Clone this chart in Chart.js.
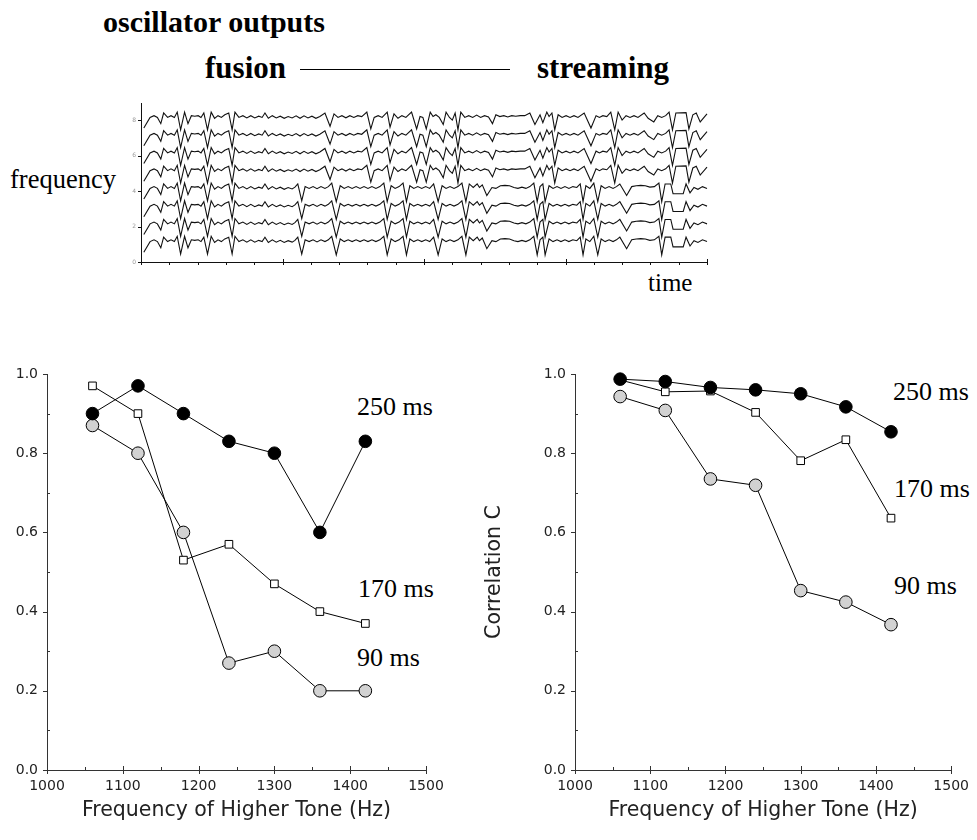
<!DOCTYPE html>
<html><head><meta charset="utf-8">
<script src="https://cdn.jsdelivr.net/npm/chart.js@4/dist/chart.umd.min.js"></script>
<style>
html,body{margin:0;padding:0;background:#fff;}
#page{position:relative;width:977px;height:840px;overflow:hidden;background:#fff;}
canvas{position:absolute;}
.lbl{position:absolute;white-space:nowrap;line-height:1;color:#000;font-family:"Liberation Serif","Times New Roman",serif;}
</style></head><body><div id="page">
<div class="lbl" style="left:103px;top:7px;font-size:30px;font-weight:bold">oscillator outputs</div>
<div class="lbl" style="left:205px;top:52px;font-size:31px;font-weight:bold">fusion</div>
<div style="position:absolute;left:300px;top:69px;width:210px;height:0;border-top:1.5px solid #000"></div>
<div class="lbl" style="left:537px;top:52px;font-size:31px;font-weight:bold">streaming</div>
<div class="lbl" style="left:10px;top:166px;font-size:26.5px">frequency</div>
<div class="lbl" style="left:648px;top:270px;font-size:25px">time</div>
<div class="lbl" style="left:357px;top:394px;font-size:26px">250 ms</div>
<div class="lbl" style="left:358px;top:576px;font-size:26px">170 ms</div>
<div class="lbl" style="left:357px;top:645px;font-size:26px">90 ms</div>
<div class="lbl" style="left:893px;top:379px;font-size:26px">250 ms</div>
<div class="lbl" style="left:894px;top:476px;font-size:26px">170 ms</div>
<div class="lbl" style="left:894px;top:573px;font-size:26px">90 ms</div>
<canvas id="osc" width="620" height="180" style="left:100px;top:95px"></canvas>
<canvas id="left" width="470" height="500" style="left:0px;top:340px"></canvas>
<canvas id="right" width="497" height="500" style="left:480px;top:340px"></canvas>
</div>
<script>
// ---------- data: correlation panels ----------
const freqs = [1060, 1120, 1180, 1240, 1300, 1360, 1420];
const seriesNames = ['250 ms', '170 ms', '90 ms'];
const left250 = [0.90, 0.97, 0.90, 0.83, 0.80, 0.60, 0.83];
const left170 = [0.97, 0.90, 0.53, 0.57, 0.47, 0.40, 0.37];
const left90  = [0.87, 0.80, 0.60, 0.27, 0.30, 0.20, 0.20];
const right250 = [0.987, 0.981, 0.966, 0.960, 0.950, 0.917, 0.854];
const right170 = [0.985, 0.955, 0.957, 0.903, 0.781, 0.834, 0.636];
const right90  = [0.943, 0.908, 0.735, 0.719, 0.453, 0.424, 0.367];
const xMajorTicks = [1000, 1100, 1200, 1300, 1400, 1500];
const xMinorTicks = [1050, 1150, 1250, 1350, 1450];
const yMajorTicks = [0, 0.2, 0.4, 0.6, 0.8, 1.0];
const yMinorTicks = [0.1, 0.3, 0.5, 0.7, 0.9];
const xAxisTitle = 'Frequency of Higher Tone (Hz)';
const yAxisTitle = 'Correlation C';

// ---------- data: oscillator outputs (time 0..100, deflection from channel level) ----------
const oscChannelsLower = [1, 2, 3, 4];
const oscChannelsUpper = [5, 6, 7, 8];
const oscYTicks = [0, 2, 4, 6, 8];
const oscTMajor = [0, 25, 50, 75, 100];
const oscTMinor = [5,10,15,20,30,35,40,45,55,60,65,70,80,85,90,95];
const waveShared = [[0.5,-0.55],[1.6,0.05],[2.3,0.15],[2.9,0.05],[3.5,-0.3],[4.0,0.3],[4.7,0.05],[5.3,0.15],[5.9,0.05],[6.4,0.35],[7.0,-0.65],[7.7,0.35],[8.3,-0.3],[8.9,0.15],[9.5,0.12],[10.1,0.15],[10.6,0.05],[11.1,0.3],[11.75,-0.65],[12.4,0.35],[13.0,0.0],[13.6,0.15],[14.2,0.05],[14.8,0.2],[15.5,0.3],[16.1,-0.65],[16.6,0.35],[17.3,0.05],[18.0,0.15],[18.7,0.02],[19.4,0.15],[20.1,0.02],[20.8,0.12],[21.4,0.05],[21.9,0.3],[22.5,0.0],[23.2,0.15],[23.9,0.02],[24.6,0.12],[25.3,0.0],[26.0,0.1]];
const waveUpperTail = [[26.7,0.02],[27.4,0.14],[28.1,0.0],[28.8,0.14],[29.5,0.02],[30.2,0.12],[30.9,0.0],[31.6,0.1],[32.5,0.3],[33.4,-0.45],[34.1,0.25],[34.8,0.05],[35.5,0.15],[36.2,0.03],[36.9,0.15],[37.6,0.05],[38.3,0.15],[39.0,0.1],[39.9,0.35],[40.6,-0.6],[41.2,0.05],[41.9,0.15],[42.6,0.05],[43.5,0.35],[44.0,-0.5],[44.7,0.25],[45.4,0.0],[46.1,0.15],[46.8,0.05],[47.8,0.35],[48.7,-0.6],[49.3,0.1],[49.8,0.05],[50.4,-0.6],[51.1,0.35],[51.6,0.1],[52.1,0.2],[52.7,0.05],[53.4,-0.35],[53.9,0.35],[54.5,0.05],[55.0,-0.1],[55.5,0.3],[56.0,-0.65],[56.5,0.35],[57.2,0.05],[57.9,0.15],[58.6,0.05],[59.3,0.18],[60.0,0.05],[60.7,0.15],[61.4,0.08],[62.1,-0.3],[62.7,0.2],[63.4,0.1],[64.1,0.15],[64.8,0.08],[65.5,0.15],[66.2,0.12],[67.0,0.15],[67.8,0.15],[68.7,0.3],[69.6,-0.35],[70.5,0.2],[71.0,-0.25],[71.7,0.35],[72.1,0.1],[72.6,0.3],[73.1,-0.65],[73.7,0.2],[74.4,0.05],[75.1,0.15],[75.8,0.05],[76.5,0.15],[77.2,0.05],[78.3,0.3],[79.5,-0.55],[80.4,0.15],[81.0,0.05],[81.6,0.15],[82.3,0.1],[83.0,0.35],[83.7,-0.65],[84.3,0.35],[85.0,-0.1],[85.7,0.15],[86.4,0.05],[87.1,0.15],[87.8,0.05],[88.9,0.3],[89.6,0.0],[90.6,-0.2],[91.3,0.15],[92.0,0.05],[92.7,0.15],[93.3,0.35],[93.9,-0.65],[94.5,0.3],[96.3,0.32],[96.8,-0.6],[97.5,0.2],[98.1,0.3],[98.8,-0.2],[100,0.25]];
const waveLowerTail = [[26.7,0.02],[27.2,0.12],[27.7,0.3],[28.4,-0.65],[29.0,0.15],[29.7,0.05],[30.4,0.15],[31.1,0.03],[31.8,0.15],[32.5,0.05],[33.1,0.15],[33.7,0.35],[34.5,-0.7],[35.2,0.2],[35.9,0.05],[36.6,0.15],[37.3,0.05],[38.0,0.15],[38.7,0.05],[39.4,0.15],[40.1,0.05],[40.8,0.15],[41.5,0.05],[42.2,0.15],[42.9,0.35],[43.5,-0.7],[44.2,0.2],[44.9,0.05],[45.6,0.15],[46.3,0.35],[46.9,-0.7],[47.5,0.2],[48.2,0.05],[48.9,0.15],[49.6,0.05],[50.3,0.15],[51.0,0.05],[51.7,0.3],[52.5,-0.7],[53.2,0.2],[53.9,0.05],[54.6,0.15],[55.3,0.05],[56.0,0.15],[56.7,0.35],[57.4,-0.7],[58.0,0.3],[58.7,0.1],[59.4,0.3],[59.8,0.1],[60.3,0.25],[61.1,-0.35],[62.0,0.1],[62.7,0.05],[63.5,0.2],[64.3,0.22],[65.1,0.2],[65.9,0.1],[66.6,0.05],[67.3,0.12],[68.0,0.05],[68.7,0.15],[69.4,0.35],[70.0,-0.7],[70.5,0.15],[71.0,0.3],[71.4,-0.7],[72.1,0.2],[72.8,0.05],[73.5,0.15],[74.2,0.05],[74.9,0.15],[75.6,0.05],[76.3,0.15],[77.0,0.1],[77.6,0.3],[78.1,-0.7],[78.6,0.2],[79.3,0.05],[80.0,0.35],[80.7,-0.7],[81.3,0.2],[82.0,0.05],[82.7,0.15],[83.4,0.05],[84.0,0.15],[84.6,0.3],[85.8,-0.35],[86.7,0.15],[87.5,0.2],[88.3,0.22],[89.1,0.2],[89.9,0.12],[90.7,0.15],[91.5,0.35],[92.0,-0.7],[92.6,0.3],[93.6,0.3],[94.0,-0.25],[95.8,-0.25],[96.3,0.3],[97.0,-0.2],[97.7,0.1],[98.4,0.0],[99.2,0.15],[100,0.05]];

// ---------- tick-mark plugin (uses the chart's own scales) ----------
const tickMarks = {
  id: 'tickMarks',
  afterDraw(chart, args, o) {
    const ctx = chart.ctx, xs = chart.scales.x, ys = chart.scales.y, a = chart.chartArea;
    ctx.save();
    ctx.strokeStyle = o.color; ctx.lineWidth = 1;
    ctx.beginPath();
    const vx = (v, up, down) => { const p = Math.round(xs.getPixelForValue(v)) + 0.5; ctx.moveTo(p, a.bottom - up); ctx.lineTo(p, a.bottom + down); };
    const hy = (v, out, inn) => { const p = Math.round(ys.getPixelForValue(v)) + 0.5; ctx.moveTo(a.left - out, p); ctx.lineTo(a.left + inn, p); };
    o.xMajor.forEach(v => vx(v, o.xMajorIn, o.xMajorOut));
    o.xMinor.forEach(v => vx(v, o.xMinorIn, o.xMinorOut));
    o.yMajor.forEach(v => hy(v, o.yMajorOut, o.yMajorIn));
    o.yMinor.forEach(v => hy(v, o.yMinorOut, o.yMinorIn));
    ctx.stroke();
    ctx.restore();
  }
};

const axisColor = '#333';
const sans = '"DejaVu Sans", Verdana, sans-serif';

function corrChart(id, d250, d170, d90, yWidth, padRight, showYTitle) {
  const mk = (vals) => freqs.map((f, i) => ({x: f, y: vals[i]}));
  return new Chart(document.getElementById(id), {
    type: 'line',
    data: { datasets: [
      { label: seriesNames[0], data: mk(d250), borderColor: '#000', borderWidth: 1, backgroundColor: '#000',
        pointStyle: 'circle', pointRadius: 6.3, pointBorderColor: '#000', pointBorderWidth: 1, clip: false },
      { label: seriesNames[1], data: mk(d170), borderColor: '#000', borderWidth: 1, backgroundColor: '#fff',
        pointStyle: 'rect', pointRadius: 5.4, pointBorderColor: '#000', pointBorderWidth: 1, clip: false },
      { label: seriesNames[2], data: mk(d90), borderColor: '#000', borderWidth: 1, backgroundColor: '#d2d2d2',
        pointStyle: 'circle', pointRadius: 6.3, pointBorderColor: '#000', pointBorderWidth: 1, clip: false }
    ]},
    options: {
      responsive: false, animation: false, events: [],
      layout: { padding: { left: 0, top: 34, right: padRight, bottom: 0 } },
      plugins: { legend: { display: false }, tooltip: { enabled: false },
        tickMarks: { color: axisColor, xMajor: xMajorTicks, xMinor: xMinorTicks, yMajor: yMajorTicks, yMinor: yMinorTicks,
          xMajorIn: 4, xMajorOut: 4, xMinorIn: 3, xMinorOut: 0, yMajorOut: 4, yMajorIn: 0, yMinorOut: 0, yMinorIn: 3 } },
      scales: {
        x: { type: 'linear', min: 1000, max: 1500,
          grid: { drawOnChartArea: false, drawTicks: false },
          border: { display: true, color: axisColor, width: 1 },
          ticks: { stepSize: 100, padding: 8, color: '#222', font: { family: sans, size: 14 }, maxRotation: 0, callback: v => String(v) },
          title: { display: true, text: xAxisTitle, color: '#222', font: { family: sans, size: 20.5 }, padding: { top: 0, bottom: 17 } },
          afterFit: s => { s.height = 70; } },
        y: { type: 'linear', min: 0, max: 1,
          grid: { drawOnChartArea: false, drawTicks: false },
          border: { display: true, color: axisColor, width: 1 },
          ticks: { stepSize: 0.2, padding: 9, color: '#222', font: { family: sans, size: 14 }, callback: v => v.toFixed(1) },
          title: { display: showYTitle, text: yAxisTitle, color: '#222', font: { family: sans, size: 20.5 }, padding: { top: 2, bottom: 0 } },
          afterFit: s => { s.width = yWidth; } }
      }
    },
    plugins: [tickMarks]
  });
}

corrChart('left', left250, left170, left90, 47, 44, false);
corrChart('right', right250, right170, right90, 95, 24, true);

// ---------- oscillator chart ----------
const traceLift = 0.1;
const toPts = (wave, ch) => wave.map(([t, v]) => ({x: t, y: ch + traceLift + v}));
const oscSets = [];
oscChannelsLower.forEach(ch => oscSets.push({ data: toPts(waveShared.concat(waveLowerTail), ch) }));
oscChannelsUpper.forEach(ch => oscSets.push({ data: toPts(waveShared.concat(waveUpperTail), ch) }));
oscSets.forEach(ds => Object.assign(ds, { borderColor: '#111', borderWidth: 1.1, pointRadius: 0, tension: 0, fill: false, clip: false }));

new Chart(document.getElementById('osc'), {
  type: 'line',
  data: { datasets: oscSets },
  options: {
    responsive: false, animation: false, events: [],
    layout: { padding: { left: 0, top: 8, right: 13, bottom: 0 } },
    plugins: { legend: { display: false }, tooltip: { enabled: false },
      tickMarks: { color: '#111', xMajor: oscTMajor, xMinor: oscTMinor, yMajor: oscYTicks, yMinor: [],
        xMajorIn: 3, xMajorOut: 3, xMinorIn: 0, xMinorOut: 3, yMajorOut: 3, yMajorIn: 0, yMinorOut: 0, yMinorIn: 0 } },
    scales: {
      x: { type: 'linear', min: 0, max: 100,
        grid: { drawOnChartArea: false, drawTicks: false },
        border: { display: true, color: '#111', width: 1 },
        ticks: { display: false },
        afterFit: s => { s.height = 13; } },
      y: { type: 'linear', min: 0, max: 8.93,
        grid: { drawOnChartArea: false, drawTicks: false },
        border: { display: true, color: '#111', width: 1 },
        ticks: { stepSize: 2, includeBounds: false, padding: 5, color: '#999', font: { family: sans, size: 6 } },
        afterFit: s => { s.width = 41; } }
    }
  },
  plugins: [tickMarks]
});
</script>
</body></html>
